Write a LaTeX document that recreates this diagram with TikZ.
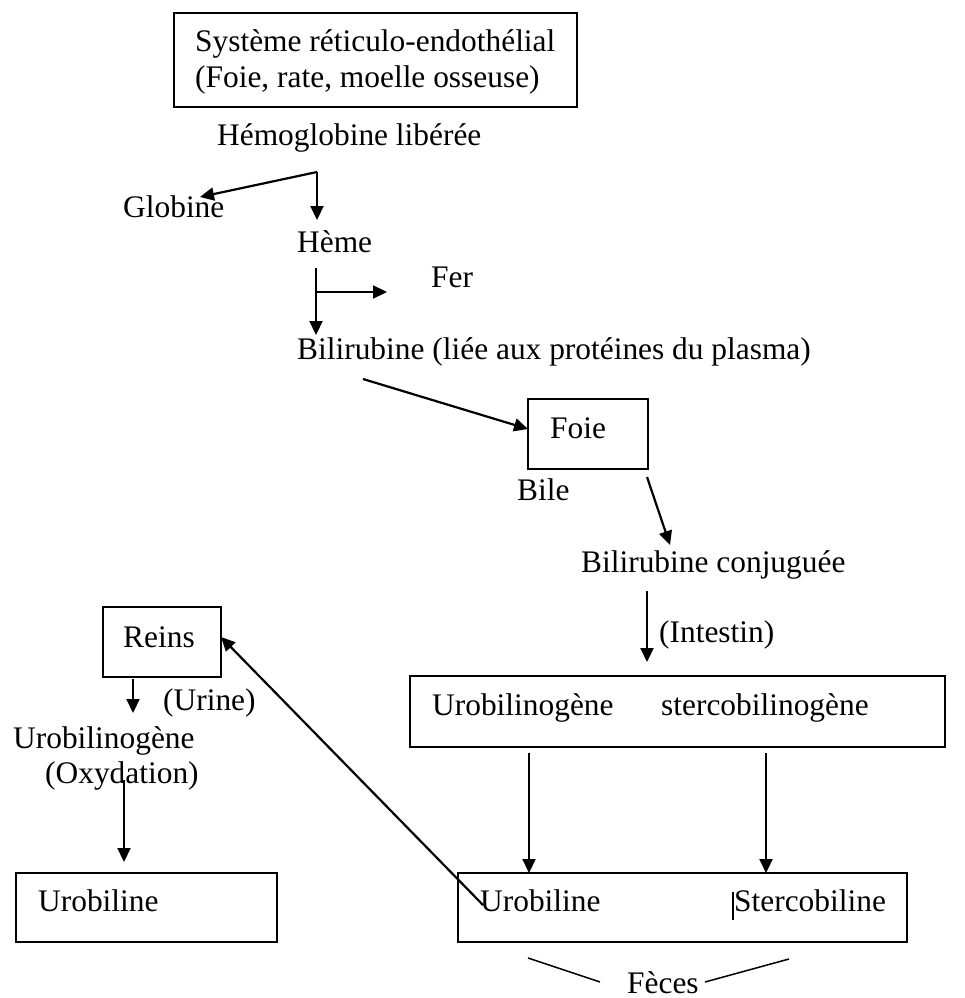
\documentclass[tikz,border=0pt]{standalone}
\usepackage{fontspec}
\setmainfont{Liberation Serif}
\usetikzlibrary{arrows.meta}
\newcommand{\fsz}{\fontsize{31.4}{36}\selectfont}
\begin{document}
\begin{tikzpicture}[x=1pt,y=-1pt,
  txt/.style={anchor=base west, inner sep=0pt, font=\fsz},
  boxn/.style={draw, line width=1.9pt, inner sep=0pt, outer sep=0pt},
  arr/.style={line width=2.2pt, -{Triangle[length=14pt,width=13pt]}},
  thin/.style={line width=1.5pt}]
\useasboundingbox (0,0) rectangle (964,998);
% boxes
\node[boxn, minimum width=403pt, minimum height=94pt] (sre) at (375.5,60) {};
\node[boxn, minimum width=120pt, minimum height=70pt] (foiebox) at (588,434) {};
\node[boxn, minimum width=118pt, minimum height=70pt] (reinsbox) at (162,642) {};
\node[boxn, minimum width=535pt, minimum height=71pt] (intbox) at (677.5,711.5) {};
\node[boxn, minimum width=449pt, minimum height=69pt] (fecbox) at (682.5,907.5) {};
\node[boxn, minimum width=261pt, minimum height=69pt] (urobox) at (146.5,907.5) {};
% texts
\node[txt] (sre1) at (195,52) {Système réticulo-endothélial};
\node[txt] (sre2) at (195,88) {(Foie, rate, moelle osseuse)};
\node[txt] (hemo) at (217,145) {Hémoglobine libérée};
\node[txt] (glob) at (123,217) {Globine};
\node[txt] (heme) at (297,252) {Hème};
\node[txt] (fer) at (431,287) {Fer};
\node[txt] (bili) at (297,359) {Bilirubine (liée aux protéines du plasma)};
\node[txt] (foie) at (550,438) {Foie};
\node[txt] (bile) at (517,500) {Bile};
\node[txt] (bilic) at (581,572) {Bilirubine conjuguée};
\node[txt] (intestin) at (659,642) {(Intestin)};
\node[txt] (urogen) at (432,715) {Urobilinogène};
\node[txt] (stergen) at (661,715) {stercobilinogène};
\node[txt] (urob) at (480,911) {Urobiline};
\node[txt] (sterb) at (734,911) {Stercobiline};
\node[txt] (reins) at (123,647) {Reins};
\node[txt] (urine) at (163,710) {(Urine)};
\node[txt] (urogenL) at (13,748) {Urobilinogène};
\node[txt] (oxy) at (45,783) {(Oxydation)};
\node[txt] (urobL) at (38,911) {Urobiline};
\node[txt] (feces) at (627,993) {Fèces};
% coordinates
\coordinate (hsplit) at (317,172);
\coordinate (gtip) at (200,197);
\coordinate (htip) at (317,220);
\coordinate (hs) at (316,268);
\coordinate (hb) at (316,292);
\coordinate (htip2) at (316,335);
\coordinate (ftip) at (387,292);
\coordinate (bs) at (363,379);
\coordinate (fs) at (647,477);
\coordinate (bctip) at (670,545);
\coordinate (is) at (647,591);
\coordinate (itip) at (647,662);
\coordinate (d1) at (529,753);
\coordinate (d2) at (766,753);
\coordinate (rs) at (483,905);
\coordinate (us) at (133,679);
\coordinate (utip) at (133,713);
\coordinate (os) at (124,780);
\coordinate (otip) at (124,862);
\coordinate (fl1) at (528,958);
\coordinate (fl2) at (600,982);
\coordinate (fr1) at (705,982);
\coordinate (fr2) at (789,959);
\coordinate (bar1) at (733,892);
\coordinate (bar2) at (733,920);
% connectors
\draw[arr] (hsplit) -- (gtip);
\draw[arr] (hsplit) -- (htip);
\draw[arr] (hs) -- (htip2);
\draw[arr] (hb) -- (ftip);
\draw[arr] (bs) -- ([yshift=5pt]foiebox.west);
\draw[arr] (fs) -- (bctip);
\draw[arr] (is) -- (itip);
\draw[arr] (d1) -- (d1 |- fecbox.north);
\draw[arr] (d2) -- (d2 |- fecbox.north);
\draw[arr] (rs) -- ([yshift=5pt]reinsbox.east);
\draw[arr] (us) -- (utip);
\draw[arr] (os) -- (otip);
\draw[thin] (fl1) -- (fl2);
\draw[thin] (fr1) -- (fr2);
\draw[line width=1.2pt] (bar1) -- (bar2);
\end{tikzpicture}
\end{document}
